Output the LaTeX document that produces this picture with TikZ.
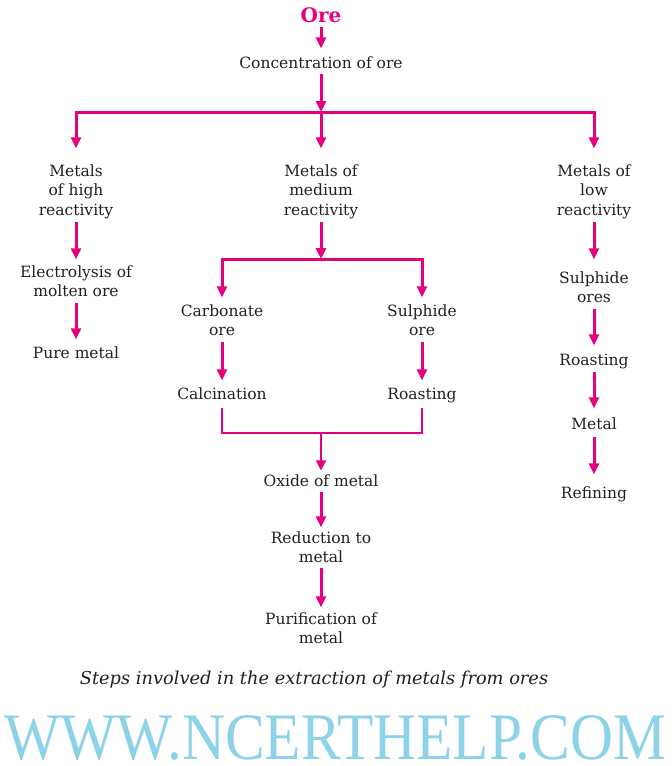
\documentclass[tikz,border=0pt]{standalone}
\usepackage{graphicx}
\usepackage{fontspec}
\setmainfont{DejaVu Serif}
\newfontfamily\wmfont{Liberation Serif}
\usetikzlibrary{arrows.meta}
\definecolor{mag}{RGB}{230,0,126}
\definecolor{ink}{RGB}{35,31,32}
\definecolor{wm}{RGB}{141,211,232}
\newcommand\bodyfont{\fontsize{15.5}{19.5}\selectfont}
\begin{document}
\begin{tikzpicture}[x=1pt,y=-1pt,
 txt/.style={font=\bodyfont, text=ink, align=center, inner sep=0pt, anchor=north,
   execute at begin node=\strut, execute at end node=\strut},
 arr/.style={draw=mag, line width=3pt, -{Triangle[width=10pt,length=11pt]}, shorten <=3pt, shorten >=4pt},
 bar/.style={draw=mag, line width=3pt, line cap=rect},
 thinbar/.style={draw=mag, line width=2pt},
 thinarr/.style={draw=mag, line width=2pt, -{Triangle[width=10pt,length=10pt]}}]
\useasboundingbox (0,0) rectangle (672,766);

\node[font=\fontsize{20}{24}\selectfont\bfseries, text=mag, inner sep=0pt, anchor=base] (ore) at (321,22) {Ore};
\node[txt] (conc) at (321,54.35) {Concentration of ore};
\coordinate (j1) at (321,112);
\coordinate (jL) at (76,112);
\coordinate (jR) at (594,112);
\node[txt] (high) at (76,164.35) {Metals\\of high\\reactivity};
\node[txt] (med) at (321,164.35) {Metals of\\medium\\reactivity};
\node[txt] (low) at (594,164.35) {Metals of\\low\\reactivity};
\node[txt] (elec) at (76,265.35) {Electrolysis of\\molten ore};
\node[txt] (pure) at (76,344.35) {Pure metal};
\coordinate (j2) at (321,259);
\coordinate (j2L) at (222,259);
\coordinate (j2R) at (422,259);
\node[txt] (carb) at (222,304.35) {Carbonate\\ore};
\node[txt] (sulph) at (422,304.35) {Sulphide\\ore};
\node[txt] (calc) at (222,385.35) {Calcination};
\node[txt] (roast) at (422,385.35) {Roasting};
\coordinate (j3) at (321,433);
\node[txt] (oxide) at (321,472.35) {Oxide of metal};
\node[txt] (red) at (321,531.35) {Reduction to\\metal};
\node[txt] (puri) at (321,612.35) {Purification of\\metal};
\node[txt] (sores) at (594,271.35) {Sulphide\\ores};
\node[txt] (roast2) at (594,351.35) {Roasting};
\node[txt] (metal) at (594,415.35) {Metal};
\node[txt] (refin) at (594,484.35) {Refining};

\draw[arr, shorten <=5pt, shorten >=6pt] (ore) -- (conc);
\draw[arr, shorten <=0pt, shorten >=0pt] (conc) -- (j1);
\draw[bar] (jL) -- (jR);
\draw[arr, shorten <=0pt, shorten >=16pt] (jL) -- (high);
\draw[arr, shorten <=0pt, shorten >=16pt] (j1) -- (med);
\draw[arr, shorten <=0pt, shorten >=16pt] (jR) -- (low);
\draw[arr, shorten <=1pt, shorten >=6pt] (high) -- (elec);
\draw[arr, shorten <=0pt, shorten >=5pt] (elec) -- (pure);
\draw[arr, shorten <=1pt, shorten >=0pt] (med) -- (j2);
\draw[bar] (j2L) -- (j2R);
\draw[arr, shorten <=0pt, shorten >=7pt] (j2L) -- (carb);
\draw[arr, shorten <=0pt, shorten >=7pt] (j2R) -- (sulph);
\draw[arr, shorten <=0pt, shorten >=5pt] (carb) -- (calc);
\draw[arr, shorten <=0pt, shorten >=5pt] (sulph) -- (roast);
\draw[thinbar, shorten <=3pt, shorten >=3pt] (calc) |- (j3) -| (roast);
\draw[thinarr, shorten >=2pt] (j3) -- (oxide);
\draw[arr, shorten <=0pt, shorten >=4pt] (oxide) -- (red);
\draw[arr, shorten <=-1pt, shorten >=5pt] (red) -- (puri);
\draw[arr, shorten <=1pt, shorten >=12pt] (low) -- (sores);
\draw[arr, shorten <=0pt, shorten >=6pt] (sores) -- (roast2);
\draw[arr, shorten <=1pt, shorten >=7pt] (roast2) -- (metal);
\draw[arr, shorten <=2pt, shorten >=10pt] (metal) -- (refin);

\node[font=\fontsize{17.8}{21}\selectfont\itshape, text=ink, inner sep=0pt] (cap) at (314,680) {Steps involved in the extraction of metals from ores};
\node[anchor=south west, inner sep=0pt, text=wm] (wmk) at (4,761) {\resizebox{662pt}{44pt}{\wmfont WWW.NCERTHELP.COM}};
\end{tikzpicture}
\end{document}
